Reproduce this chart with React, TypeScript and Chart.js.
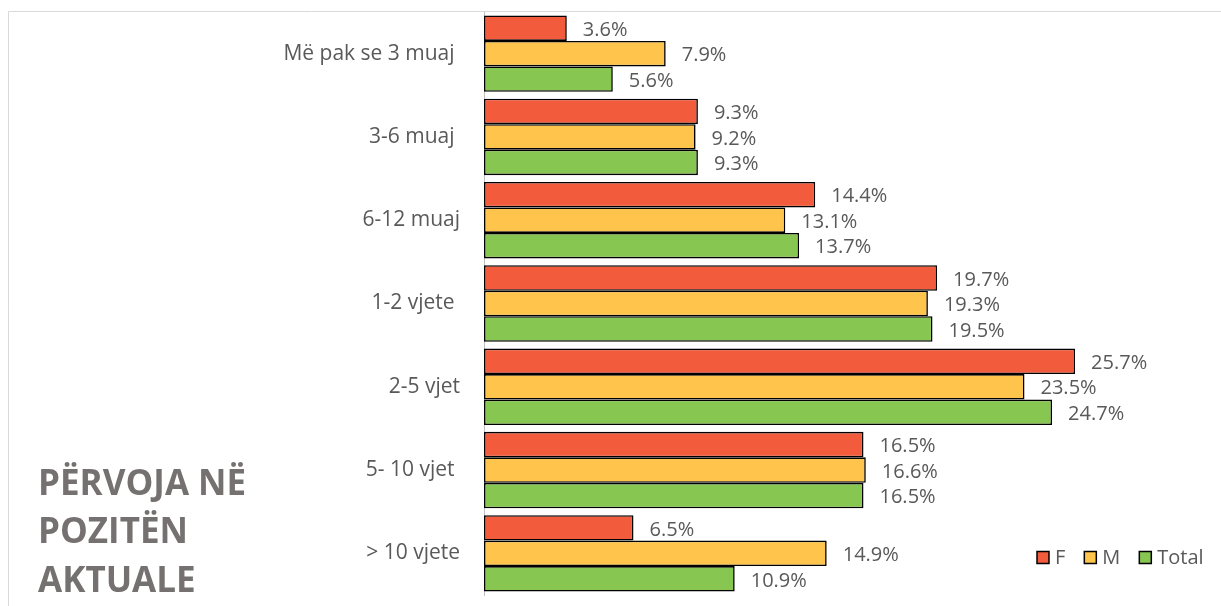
import React, { useEffect, useRef } from "react";
import { Chart, registerables } from "chart.js";

Chart.register(...registerables);

const categories = [
  "Më pak se 3 muaj ",
  "3-6 muaj ",
  "6-12 muaj",
  "1-2 vjete ",
  "2-5 vjet",
  "5- 10 vjet ",
  "> 10 vjete",
];
const seriesNames = ["F", "M", "Total"];
const valuesF = [3.6, 9.3, 14.4, 19.7, 25.7, 16.5, 6.5];
const valuesM = [7.9, 9.2, 13.1, 19.3, 23.5, 16.6, 14.9];
const valuesTotal = [5.6, 9.3, 13.7, 19.5, 24.7, 16.5, 10.9];
const seriesColors = ["#F35B3D", "#FFC44B", "#88C652"];
const titleLines = ["PËRVOJA NË", "POZITËN", "AKTUALE"];

const W = 1221;
const H = 606;
const FONT = "'Open Sans', 'Noto Sans', sans-serif";
const TEXT = "#595959";

const decorPlugin = {
  id: "decor",
  beforeDraw(chart: any) {
    const ctx = chart.ctx;
    ctx.save();
    ctx.strokeStyle = "#d9d9d9";
    ctx.lineWidth = 1;
    ctx.beginPath();
    ctx.moveTo(8.5, H);
    ctx.lineTo(8.5, 11.5);
    ctx.lineTo(W, 11.5);
    ctx.stroke();
    ctx.restore();
  },
  afterDatasetsDraw(chart: any) {
    const ctx = chart.ctx;
    ctx.save();
    ctx.font = `20px ${FONT}`;
    ctx.fillStyle = TEXT;
    ctx.textAlign = "left";
    ctx.textBaseline = "middle";
    chart.data.datasets.forEach((ds: any, i: number) => {
      const meta = chart.getDatasetMeta(i);
      meta.data.forEach((el: any, j: number) => {
        const v = ds.data[j] as number;
        ctx.fillText(v.toFixed(1) + "%", el.x + 16, el.y + 2);
      });
    });
    ctx.restore();
  },
  afterDraw(chart: any) {
    const ctx = chart.ctx;
    ctx.save();
    // title
    ctx.font = `bold 35px ${FONT}`;
    ctx.fillStyle = "#767171";
    ctx.textAlign = "left";
    ctx.textBaseline = "alphabetic";
    const baselines = [495, 543, 592];
    titleLines.forEach((t, i) => ctx.fillText(t, 38, baselines[i]));
    // legend
    ctx.font = `20px ${FONT}`;
    ctx.textBaseline = "middle";
    let x = 1037;
    const cy = 557.5;
    chart.data.datasets.forEach((ds: any) => {
      ctx.fillStyle = ds.backgroundColor;
      ctx.fillRect(x, cy - 6, 12, 12);
      ctx.strokeStyle = "#000";
      ctx.lineWidth = 1.5;
      ctx.strokeRect(x, cy - 6, 12, 12);
      x += 18;
      ctx.fillStyle = TEXT;
      ctx.fillText(ds.label, x, cy + 1);
      x += ctx.measureText(ds.label).width + 19;
    });
    ctx.restore();
  },
};

export default function App() {
  const ref = useRef<HTMLCanvasElement | null>(null);
  useEffect(() => {
    if (!ref.current) return;
    const allValues = [valuesF, valuesM, valuesTotal];
    const chart = new Chart(ref.current, {
      type: "bar",
      data: {
        labels: categories,
        datasets: seriesNames.map((name, i) => ({
          label: name,
          data: allValues[i],
          backgroundColor: seriesColors[i],
          borderColor: "#000000",
          borderWidth: 1.6,
          borderSkipped: false,
          categoryPercentage: 0.918,
          barPercentage: 1,
        })),
      },
      options: {
        indexAxis: "y",
        responsive: false,
        animation: false,
        layout: { padding: { top: 12, bottom: 11, left: 0, right: 47 } },
        plugins: {
          legend: { display: false },
          tooltip: { enabled: false },
          title: { display: false },
        },
        scales: {
          x: { display: false, min: 0, max: 30 },
          y: {
            afterFit: (scale: any) => {
              scale.width = 484;
              scale.paddingTop = 0;
              scale.paddingBottom = 0;
            },
            grid: { display: false, drawTicks: false },
            border: { display: true, color: "#bfbfbf", width: 1 },
            ticks: {
              padding: 24,
              color: TEXT,
              font: { family: FONT, size: 21 },
            },
          },
        },
      },
      plugins: [decorPlugin],
    });
    return () => chart.destroy();
  }, []);
  return (
    <div style={{ position: "absolute", left: 0, top: 0, width: W, height: H, background: "#fff" }}>
      <canvas ref={ref} width={W} height={H} />
    </div>
  );
}
